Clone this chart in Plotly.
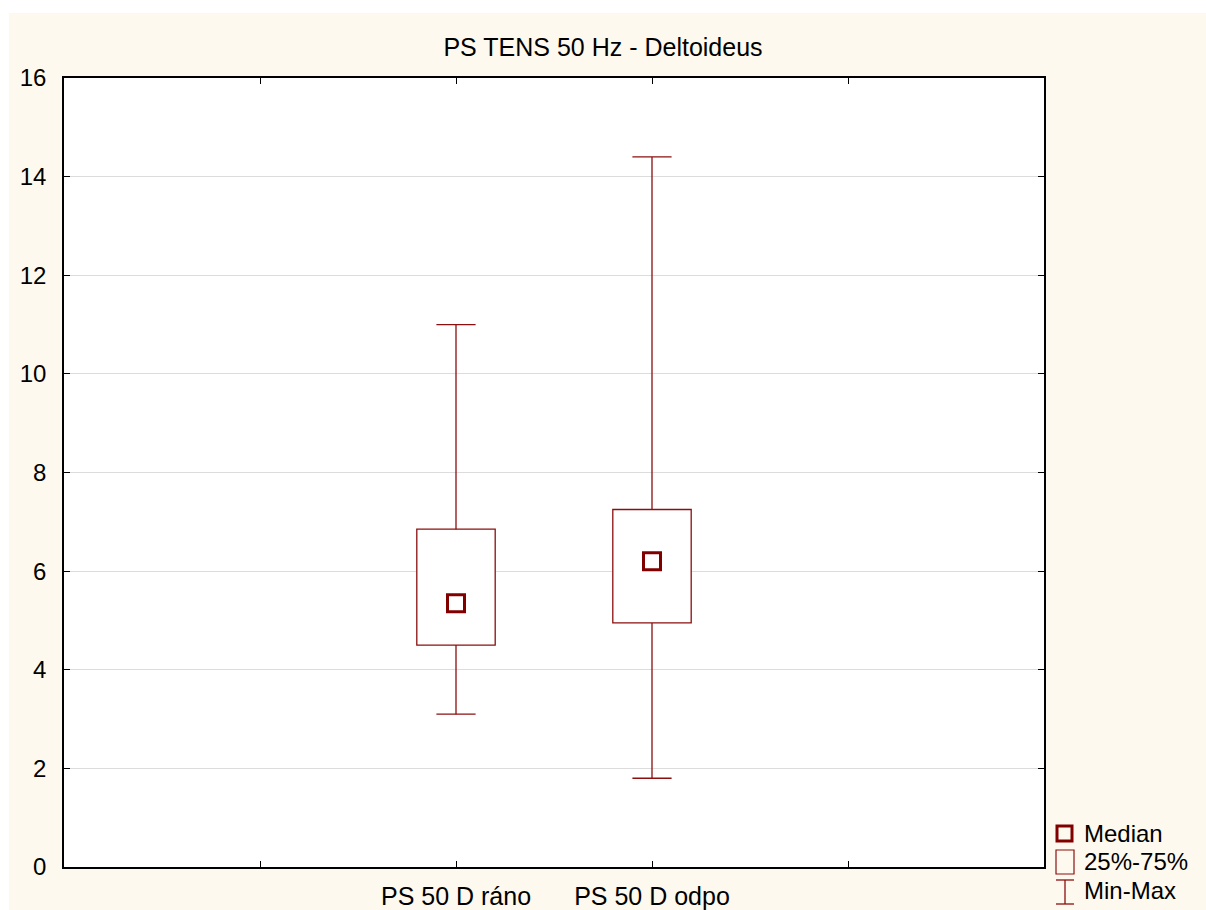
import plotly.graph_objects as go

# ---- data ----
categories = ["PS 50 D ráno", "PS 50 D odpo"]
cat_pos = [2, 3]
mins = [3.1, 1.8]
q1 = [4.5, 4.95]
medians = [5.35, 6.2]
q3 = [6.85, 7.25]
maxs = [11.0, 14.4]
y_ticks = [0, 2, 4, 6, 8, 10, 12, 14, 16]
x_ticks = [1, 2, 3, 4]
x_ticktext = ["", categories[0], categories[1], ""]

RED = "#800000"
BOXRED = "#8B0F0F"
FONT = "Liberation Sans, Arial, sans-serif"

W, H = 1206, 910
L, R, T, B = 64, 1044, 78, 867  # plot area in px

fig = go.Figure()

# box (25%-75%)
fig.add_trace(go.Bar(
    x=cat_pos, base=q1, y=[b - a for a, b in zip(q1, q3)], width=0.4,
    marker=dict(color="white", line=dict(color=BOXRED, width=1.3)),
    showlegend=False, hoverinfo="skip"))

# whiskers
cap = 0.1
wx, wy = [], []
for x, mn, a, b, mx in zip(cat_pos, mins, q1, q3, maxs):
    wx += [x, x, None, x, x, None, x - cap, x + cap, None, x - cap, x + cap, None]
    wy += [mn, a, None, b, mx, None, mn, mn, None, mx, mx, None]
fig.add_trace(go.Scatter(x=wx, y=wy, mode="lines",
                         line=dict(color=BOXRED, width=1.3),
                         showlegend=False, hoverinfo="skip"))

# medians
fig.add_trace(go.Scatter(x=cat_pos, y=medians, mode="markers",
                         marker=dict(symbol="square-open", size=17,
                                     line=dict(color=RED, width=3), color=RED),
                         showlegend=False))


def px(xp):
    return (xp - L) / (R - L)


def py(yp):
    return (B - yp) / (B - T)


shapes = []
# white outer border strips (left/top)
shapes.append(dict(type="rect", xref="paper", yref="paper", x0=px(0), x1=px(9),
                   y0=py(H), y1=py(0), fillcolor="white", line=dict(width=0), layer="below"))
shapes.append(dict(type="rect", xref="paper", yref="paper", x0=px(0), x1=px(W),
                   y0=py(13), y1=py(0), fillcolor="white", line=dict(width=0), layer="below"))
# legend glyphs
shapes.append(dict(type="rect", xref="paper", yref="paper", x0=px(1057), x1=px(1072),
                   y0=py(841), y1=py(826), line=dict(color=RED, width=3)))
shapes.append(dict(type="rect", xref="paper", yref="paper", x0=px(1056), x1=px(1074),
                   y0=py(874), y1=py(850), line=dict(color=BOXRED, width=1.2)))
for (x0, y0, x1, y1) in [(1056, 880, 1074, 880), (1056, 904, 1074, 904), (1065, 880, 1065, 904)]:
    shapes.append(dict(type="line", xref="paper", yref="paper", x0=px(x0), x1=px(x1),
                       y0=py(y0), y1=py(y1), line=dict(color=BOXRED, width=1.3)))

annotations = []
for txt, yc in [("Median", 833), ("25%-75%", 861), ("Min-Max", 890)]:
    annotations.append(dict(text=txt, xref="paper", yref="paper", x=px(1082), y=py(yc),
                            xanchor="left", yanchor="middle", showarrow=False,
                            font=dict(family=FONT, size=24, color="black")))

fig.update_layout(
    width=W, height=H, autosize=False,
    margin=dict(l=L, r=W - R, t=T, b=H - B, pad=0, autoexpand=False),
    paper_bgcolor="#FEF9EF", plot_bgcolor="white",
    font=dict(family=FONT, size=24, color="black"),
    title=dict(text="PS TENS 50 Hz - Deltoideus", x=0.5, xref="container",
               y=1 - 47 / H, yref="container", xanchor="center", yanchor="middle",
               font=dict(family=FONT, size=25, color="black")),
    shapes=shapes, annotations=annotations,
    showlegend=False, barmode="overlay",
)
fig.update_xaxes(range=[0, 5], tickvals=x_ticks, ticktext=x_ticktext,
                 tickfont=dict(size=25),
                 showgrid=False, zeroline=False, showline=True, linecolor="black",
                 linewidth=1.5, mirror="ticks", ticks="inside", ticklen=6,
                 tickcolor="black", ticklabelstandoff=6, automargin=False,
                 fixedrange=True)
fig.update_yaxes(range=[0, 16], tickvals=y_ticks, tickfont=dict(size=24),
                 showgrid=True, gridcolor="#DCDCDC", gridwidth=1, zeroline=False,
                 showline=True, linecolor="black", linewidth=1.5, mirror="ticks",
                 ticks="inside", ticklen=6, tickcolor="black", ticklabelstandoff=11,
                 automargin=False, fixedrange=True)

fig.write_html("out.html")
